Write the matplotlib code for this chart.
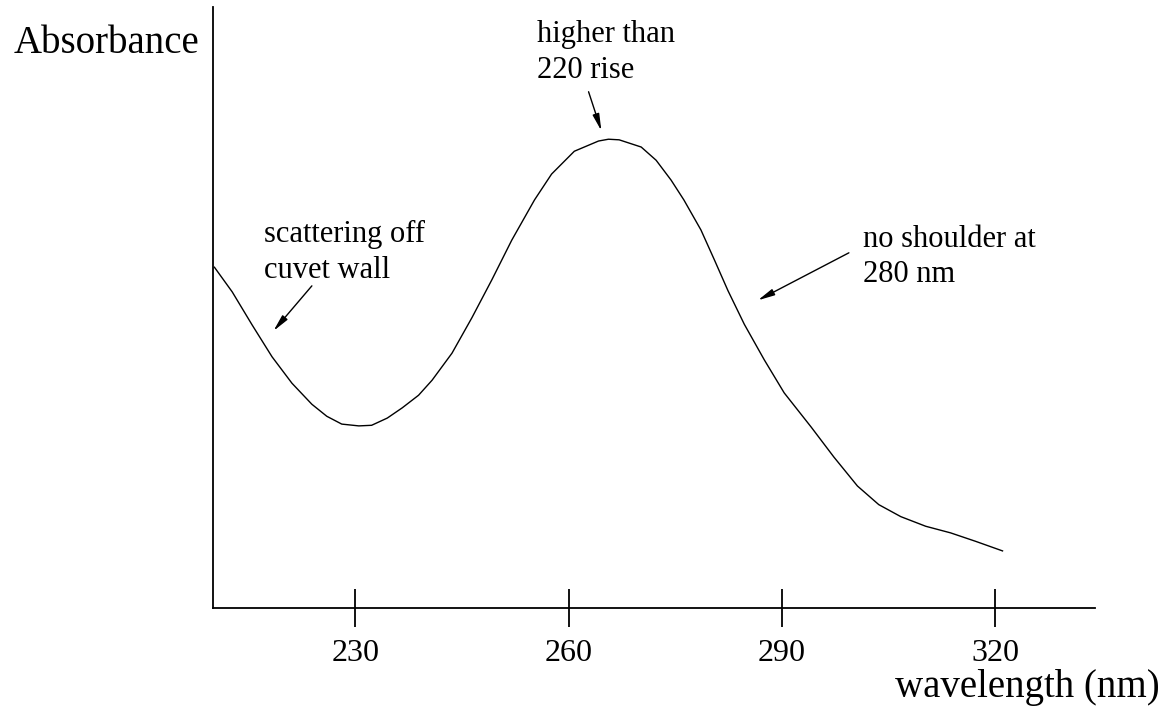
import matplotlib
matplotlib.use("Agg")
import matplotlib.pyplot as plt

# Data (wavelength in nm, absorbance in arbitrary units)
wavelength = [210.2, 212.7, 215.5, 218.3, 221.1, 223.9, 226.0, 228.1, 230.5, 232.3,
              234.5, 236.6, 238.9, 240.8, 243.6, 246.4, 249.2, 252.0, 255.2, 257.6,
              260.8, 264.2, 265.6, 267.1, 270.2, 272.3, 274.4, 276.2, 278.6, 280.5,
              282.4, 284.7, 287.5, 290.3, 294.1, 297.3, 300.6, 303.6, 306.7, 310.2,
              313.7, 317.2, 321.0]
absorbance = [0.567, 0.526, 0.471, 0.418, 0.374, 0.339, 0.319, 0.306, 0.303, 0.304,
              0.316, 0.333, 0.354, 0.379, 0.424, 0.483, 0.546, 0.612, 0.679, 0.722,
              0.760, 0.777, 0.780, 0.779, 0.767, 0.745, 0.712, 0.679, 0.629, 0.579,
              0.528, 0.472, 0.413, 0.358, 0.301, 0.251, 0.203, 0.172, 0.152, 0.136,
              0.125, 0.111, 0.095]
tick_values = [230, 260, 290, 320]
tick_labels = ["230", "260", "290", "320"]

plt.rcParams['font.family'] = ['Liberation Serif', 'DejaVu Serif']

W, H = 1163, 710
fig = plt.figure(figsize=(W / 100, H / 100), dpi=100)
ax = fig.add_axes([213 / W, 1 - 608 / H, (1095 - 213) / W, (608 - 7) / H])

ax.plot(wavelength, absorbance, color='black', lw=1.0, solid_joinstyle='round')
ax.set_xlim(210, 334)
ax.set_ylim(0, 1.0)

for s in ['top', 'right']:
    ax.spines[s].set_visible(False)
for s in ['left', 'bottom']:
    ax.spines[s].set_linewidth(1.3)
ax.set_yticks([])
ax.set_xticks(tick_values)
ax.set_xticklabels(tick_labels, fontsize=23)
ax.tick_params(axis='x', direction='inout', length=28, width=1.3, pad=8)

# axis titles
fig.text(14 / W, 1 - 53 / H, "Absorbance", fontsize=28, ha='left', va='baseline')
fig.text(1160 / W, 1 - 697 / H, "wavelength (nm)", fontsize=28, ha='right', va='baseline')

# annotations
ap = dict(arrowstyle='-|>,head_length=1.0,head_width=0.2', color='black', lw=1.0,
          shrinkA=0, shrinkB=0)
ax.annotate("", xy=(218.5, 0.461), xytext=(223.9, 0.536), arrowprops=ap)
ax.annotate("", xy=(264.6, 0.794), xytext=(262.8, 0.859), arrowprops=ap)
ax.annotate("", xy=(286.6, 0.512), xytext=(299.4, 0.591), arrowprops=ap)

ax.text(217.2, 0.549, "scattering off\ncuvet wall", fontsize=22, ha='left', va='baseline',
        linespacing=1.3)
ax.text(255.5, 0.882, "higher than\n220 rise", fontsize=22, ha='left', va='baseline',
        linespacing=1.3)
ax.text(301.4, 0.542, "no shoulder at\n280 nm", fontsize=22, ha='left', va='baseline',
        linespacing=1.3)

fig.savefig("out.png", dpi=100, facecolor='white')
